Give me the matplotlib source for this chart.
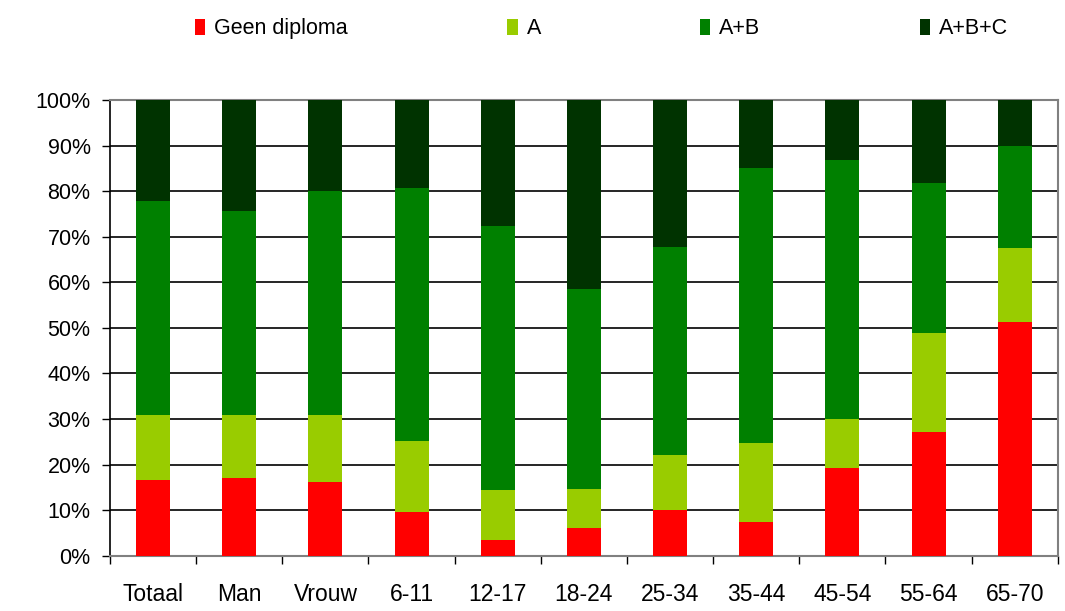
import numpy as np
import matplotlib.pyplot as plt

# Categories on the x-axis
categories = ["Totaal", "Man", "Vrouw", "6-11", "12-17", "18-24",
              "25-34", "35-44", "45-54", "55-64", "65-70"]

# Cumulative tops (percent)
top_geen = [16.7, 17.0, 16.2, 9.6, 3.4, 6.1, 10.0, 7.4, 19.2, 27.1, 51.3]
top_a    = [30.9, 30.9, 30.9, 25.2, 14.5, 14.7, 22.1, 24.8, 30.0, 48.9, 67.5]
top_ab   = [77.8, 75.6, 80.0, 80.7, 72.3, 58.5, 67.7, 85.1, 86.8, 81.8, 89.9]

# Shares per segment
geen = np.array(top_geen)
a    = np.array(top_a) - np.array(top_geen)
ab   = np.array(top_ab) - np.array(top_a)
abc  = 100 - np.array(top_ab)

series_names = ["Geen diploma", "A", "A+B", "A+B+C"]
colors = ["#ff0000", "#99cc00", "#008000", "#003300"]

plt.rcParams['font.family'] = ['Liberation Sans', 'DejaVu Sans']

fig = plt.figure(figsize=(10.65, 6.11), dpi=100)
ax = fig.add_axes([0.1033, 0.0905, 0.8899, 0.7458])

x = np.arange(len(categories))
width = 0.395
bottom = np.zeros(len(categories))
handles = []
for vals, name, col in zip([geen, a, ab, abc], series_names, colors):
    h = ax.bar(x, vals, width, bottom=bottom, color=col, label=name, zorder=3)
    handles.append(h)
    bottom = bottom + vals

ax.set_xlim(-0.5, len(categories) - 0.5)
ax.set_ylim(0, 100)
ax.set_yticks(np.arange(0, 101, 10))
ax.set_yticklabels([f"{v}%" for v in range(0, 101, 10)], fontsize=15.5)
ax.yaxis.grid(True, color='black', linewidth=1.2, zorder=0)

# category labels centred, ticks between categories
ax.set_xticks(x)
ax.set_xticklabels(categories, fontsize=16.5)
ax.tick_params(axis='x', length=0, pad=20)
ax.set_xticks(np.arange(-0.5, len(categories)), minor=True)
ax.tick_params(axis='x', which='minor', length=6, width=1, color='black', direction='out')
ax.tick_params(axis='y', length=6, width=1, direction='out', pad=8)

for side in ['top', 'right', 'bottom']:
    ax.spines[side].set_color('#808080')
    ax.spines[side].set_linewidth(1.5)
ax.spines['left'].set_color('black')
ax.spines['left'].set_linewidth(1.2)

fig.legend(handles, series_names, loc='center', bbox_to_anchor=(0.565, 0.953),
           ncol=4, frameon=False, fontsize=15.5, handlelength=0.47,
           handleheight=0.75, handletextpad=0.42, columnspacing=7.4)

fig.savefig("out.png", dpi=100)
